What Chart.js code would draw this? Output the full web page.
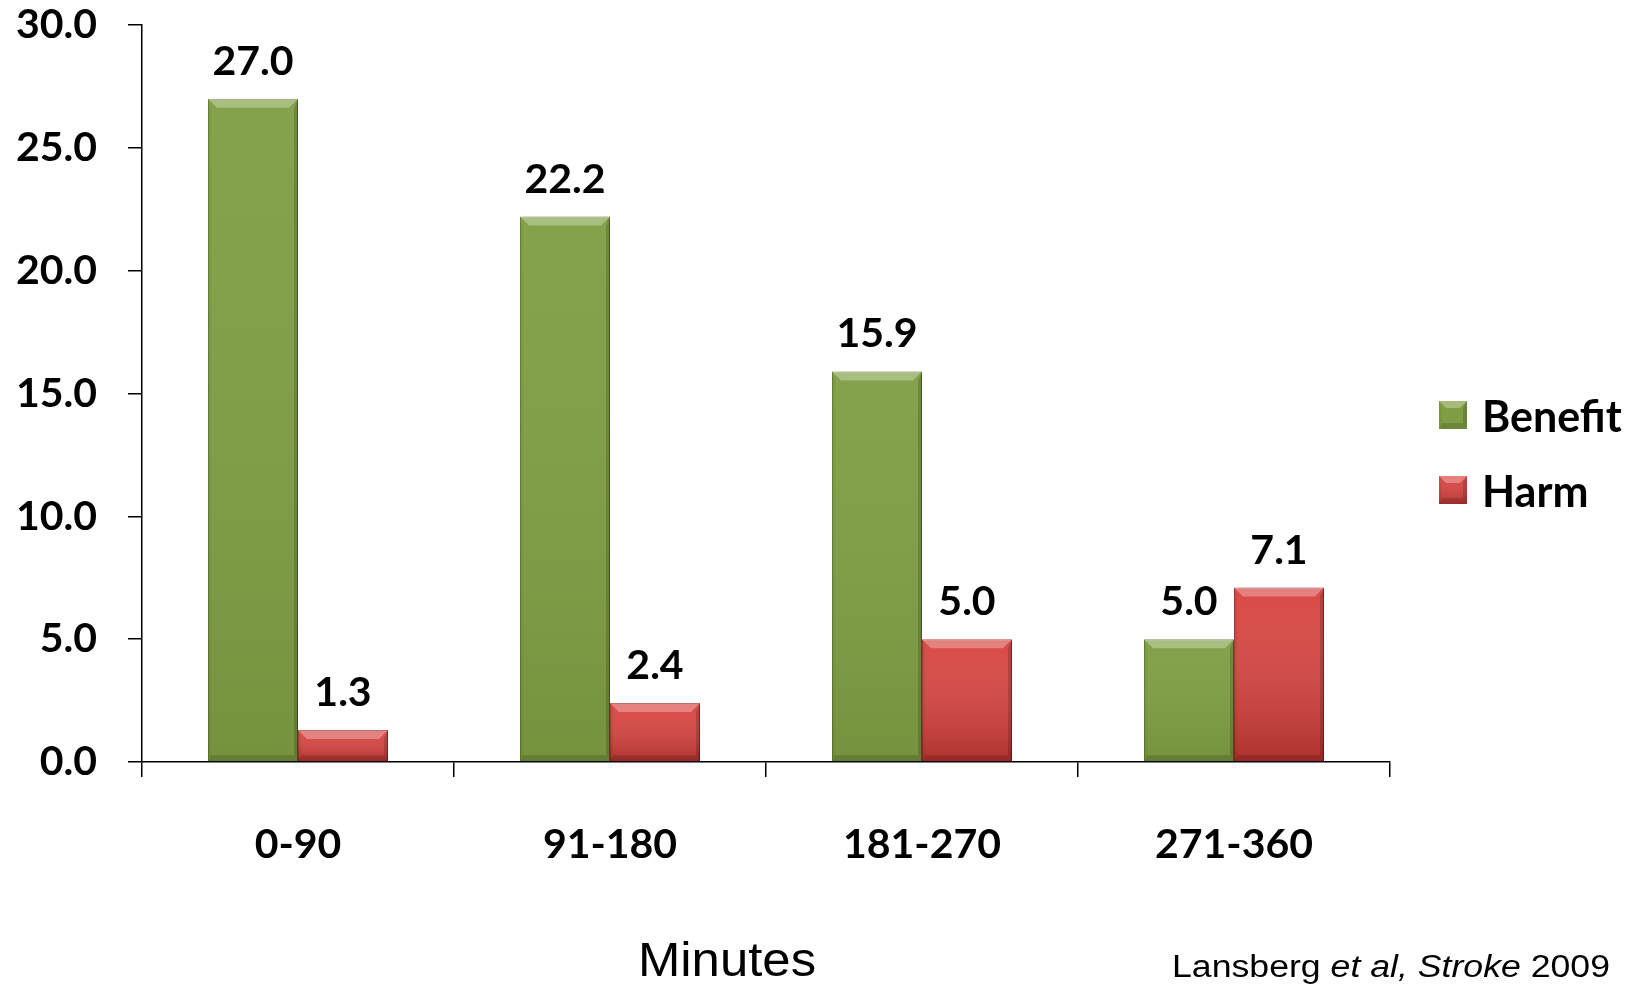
<!DOCTYPE html>
<html>
<head>
<meta charset="utf-8">
<script src="https://cdn.jsdelivr.net/npm/chart.js@4.4.1/dist/chart.umd.min.js"></script>
<style>
  html, body { margin: 0; padding: 0; background: #ffffff; }
  #wrap { width: 1637px; height: 990px; }
</style>
</head>
<body>
<div id="wrap"><canvas id="chart" width="1637" height="990"></canvas></div>
<script>
// Time-window categories (minutes) and the two series
const categories = ['0-90', '91-180', '181-270', '271-360'];
const seriesNames = ['Benefit', 'Harm'];
const benefit = [27.0, 22.2, 15.9, 5.0];
const harm = [1.3, 2.4, 5.0, 7.1];
const yTicks = [0, 5, 10, 15, 20, 25, 30];
const axisTitle = 'Minutes';
const citation = [
  ['Lansberg ', 'normal'],
  ['et al,', 'italic'],
  [' ', 'normal'],
  ['Stroke', 'italic'],
  [' 2009', 'normal']
];

const GREEN = '#7F9E44';
const RED = '#D7433F';
const BOLD = 'Lato, "Open Sans", sans-serif';
const SANS = '"Liberation Sans", Arial, sans-serif';

// Bevelled block: top highlight, darker sides and bottom
function bevel(ctx, left, top, right, bottom, size, shade) {
  const h = bottom - top;
  const b = Math.min(size, h / 2);
  ctx.save();
  if (shade) {
    const g = ctx.createLinearGradient(0, top, 0, bottom);
    g.addColorStop(0, 'rgba(255,255,255,0.04)');
    g.addColorStop(1, shade);
    ctx.fillStyle = g;
    ctx.fillRect(left, top, right - left, h);
  }
  // top face
  ctx.fillStyle = 'rgba(255,255,255,0.30)';
  ctx.beginPath();
  ctx.moveTo(left, top); ctx.lineTo(right, top);
  ctx.lineTo(right - b, top + b); ctx.lineTo(left + b, top + b);
  ctx.closePath(); ctx.fill();
  // right face
  ctx.fillStyle = 'rgba(0,0,0,0.16)';
  ctx.beginPath();
  ctx.moveTo(right, top); ctx.lineTo(right, bottom);
  ctx.lineTo(right - 4, bottom - Math.min(6, b)); ctx.lineTo(right - 4, top + b);
  ctx.closePath(); ctx.fill();
  // left face
  ctx.fillStyle = 'rgba(0,0,0,0.05)';
  ctx.beginPath();
  ctx.moveTo(left, top); ctx.lineTo(left + 3, top + b);
  ctx.lineTo(left + 3, bottom - Math.min(6, b)); ctx.lineTo(left, bottom);
  ctx.closePath(); ctx.fill();
  // bottom face
  ctx.fillStyle = 'rgba(0,0,0,0.14)';
  const bb = Math.min(6, b);
  ctx.beginPath();
  ctx.moveTo(left, bottom); ctx.lineTo(right, bottom);
  ctx.lineTo(right - 4, bottom - bb); ctx.lineTo(left + 3, bottom - bb);
  ctx.closePath(); ctx.fill();
  ctx.restore();
}

const barStyle = {
  id: 'barStyle',
  beforeDatasetsDraw(chart) {
    const ctx = chart.ctx;
    ctx.save();
    ctx.shadowColor = 'rgba(0,0,0,0.35)';
    ctx.shadowBlur = 6;
    ctx.shadowOffsetX = 3;
    ctx.shadowOffsetY = 1;
  },
  afterDatasetsDraw(chart) {
    const ctx = chart.ctx;
    ctx.restore();
    chart.data.datasets.forEach((ds, di) => {
      const meta = chart.getDatasetMeta(di);
      meta.data.forEach(bar => {
        const p = bar.getProps(['x', 'y', 'base', 'width'], true);
        const shade = di === 1 ? 'rgba(70,0,0,0.28)' : 'rgba(30,40,0,0.10)';
        bevel(ctx, p.x - p.width / 2, p.y, p.x + p.width / 2, p.base, 9, shade);
      });
    });
    // value labels above each bar
    ctx.save();
    ctx.fillStyle = '#000';
    ctx.font = 'bold 41px ' + BOLD;
    ctx.textAlign = 'center';
    ctx.textBaseline = 'alphabetic';
    chart.data.datasets.forEach((ds, di) => {
      const meta = chart.getDatasetMeta(di);
      meta.data.forEach((bar, i) => {
        const p = bar.getProps(['x', 'y'], true);
        ctx.fillText(Number(ds.data[i]).toFixed(1), p.x, p.y - 24);
      });
    });
    ctx.restore();
  }
};

const sideLegend = {
  id: 'sideLegend',
  afterDraw(chart) {
    const ctx = chart.ctx;
    const area = chart.chartArea;
    const x0 = area.right + 49;
    let y0 = area.top + 376;
    ctx.save();
    chart.data.datasets.forEach((ds, di) => {
      ctx.fillStyle = ds.backgroundColor;
      ctx.fillRect(x0, y0, 28, 28);
      bevel(ctx, x0, y0, x0 + 28, y0 + 28, 7, di === 1 ? 'rgba(70,0,0,0.25)' : null);
      ctx.fillStyle = '#000';
      ctx.font = 'bold 43px ' + BOLD;
      ctx.textAlign = 'left';
      ctx.textBaseline = 'middle';
      ctx.fillText(ds.label, x0 + 43, y0 + 17);
      y0 += 75;
    });
    ctx.restore();
  }
};

const footnotes = {
  id: 'footnotes',
  afterDraw(chart) {
    const ctx = chart.ctx;
    const area = chart.chartArea;
    ctx.save();
    ctx.fillStyle = '#000';
    ctx.textBaseline = 'alphabetic';
    // axis caption
    ctx.save();
    ctx.translate(area.left + 585, chart.height - 14);
    ctx.scale(1.06, 1);
    ctx.font = '48px ' + SANS;
    ctx.textAlign = 'center';
    ctx.fillText(axisTitle, 0, 0);
    ctx.restore();
    // source reference, right aligned
    ctx.save();
    ctx.translate(chart.width - 27, chart.height - 13);
    ctx.scale(1.15, 1);
    const fontFor = st => (st === 'italic' ? 'italic ' : '') + '31px ' + SANS;
    let total = 0;
    citation.forEach(([t, st]) => { ctx.font = fontFor(st); total += ctx.measureText(t).width; });
    let x = -total;
    ctx.textAlign = 'left';
    citation.forEach(([t, st]) => {
      ctx.font = fontFor(st);
      ctx.fillText(t, x, 0);
      x += ctx.measureText(t).width;
    });
    ctx.restore();
    ctx.restore();
  }
};

new Chart(document.getElementById('chart'), {
  type: 'bar',
  data: {
    labels: categories,
    datasets: [
      { label: seriesNames[0], data: benefit, backgroundColor: GREEN, borderColor: '#6A8738', borderWidth: 1 },
      { label: seriesNames[1], data: harm, backgroundColor: RED, borderColor: '#A83330', borderWidth: 1 }
    ]
  },
  options: {
    responsive: false,
    devicePixelRatio: 1,
    animation: false,
    datasets: { bar: { categoryPercentage: 0.577, barPercentage: 1.0 } },
    layout: { padding: { top: 0, right: 247, bottom: 0, left: 0 } },
    plugins: {
      legend: { display: false },
      tooltip: { enabled: false },
      title: { display: false }
    },
    scales: {
      x: {
        grid: { offset: true, drawOnChartArea: false, drawTicks: true, tickLength: 15, color: '#000', lineWidth: 1.5 },
        border: { display: true, color: '#000', width: 1.5 },
        ticks: { padding: 43, color: '#000', maxRotation: 0, autoSkip: false,
                 font: { family: BOLD, weight: 'bold', size: 41 } },
        afterFit(scale) { scale.height = 228; }
      },
      y: {
        min: 0, max: 30,
        afterBuildTicks(scale) { scale.ticks = yTicks.map(v => ({ value: v })); },
        grid: { drawOnChartArea: false, drawTicks: true, tickLength: 14, color: '#000', lineWidth: 1.5 },
        border: { display: true, color: '#000', width: 1.5 },
        ticks: { padding: 31, color: '#000', font: { family: BOLD, weight: 'bold', size: 41 },
                 callback: v => Number(v).toFixed(1) },
        afterFit(scale) {
          scale.width = 142;
          scale.paddingTop = 25;
          scale.paddingBottom = 0;
        }
      }
    }
  },
  plugins: [barStyle, sideLegend, footnotes]
});
</script>
</body>
</html>
